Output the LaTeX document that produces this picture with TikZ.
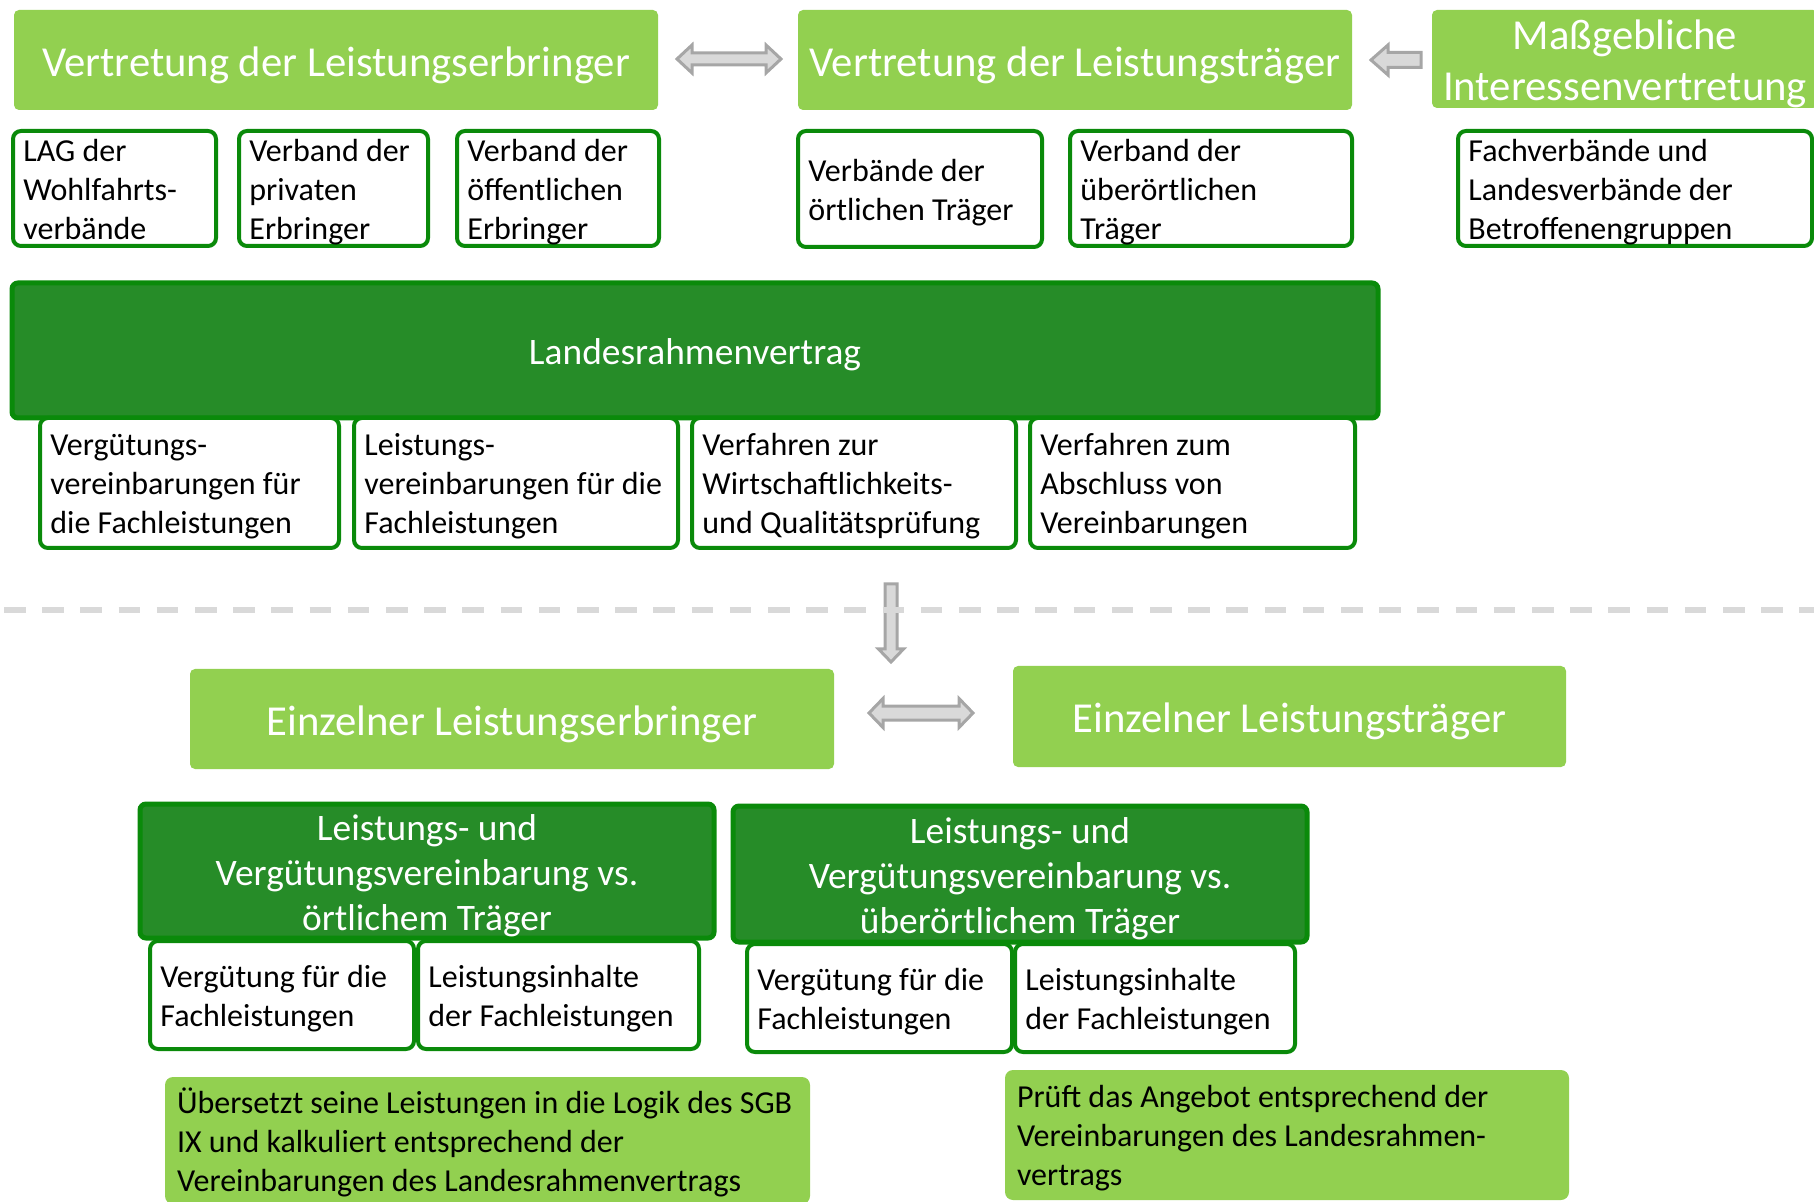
\documentclass[tikz,border=0pt]{standalone}
\usepackage{fontspec}
\setmainfont{Carlito}
\usetikzlibrary{calc}
\definecolor{lgreen}{HTML}{92D050}
\definecolor{dgreen}{HTML}{268C28}
\definecolor{bgreen}{HTML}{0A8A0A}
\definecolor{afill}{HTML}{D9D9D9}
\definecolor{aline}{HTML}{A6A6A6}
\newcommand\fS{\fontsize{16}{19.4}\selectfont}
\newcommand\fM{\fontsize{18.7}{22.5}\selectfont}
\newcommand\fL{\fontsize{21.35}{25.5}\selectfont}
% box shape: style, name, x1,y1,x2,y2
\newcommand\bxshape[6]{%
 \pgfmathsetmacro\bxcx{(#3+#5)/2}%
 \pgfmathsetmacro\bxcy{(#4+#6)/2}%
 \pgfmathsetmacro\bxw{(#5-#3)*0.5}%
 \pgfmathsetmacro\bxh{(#6-#4)*0.5}%
 \node[#1, minimum width=\bxw pt, minimum height=\bxh pt] (#2) at (\bxcx,\bxcy) {};}
% centred text box: shape style, text style, name, x1,y1,x2,y2, text
\newcommand\bxc[8]{\bxshape{#1}{#3}{#4}{#5}{#6}{#7}%
 \node[#2, align=flush center] (#3t) at (#3.center) {\strut #8\strut};}
% left text box
\newcommand\bxl[8]{\bxshape{#1}{#3}{#4}{#5}{#6}{#7}%
 \node[#2, align=flush left, anchor=west] (#3t) at ($(#3.west)+(12,0)$) {\strut #8\strut};}
% horizontal double block arrow: x1, x2, yc, half shaft, half head, head length
\newcommand\dblarrow[6]{%
 \draw[barrow] (#1,#3) -- ({#1+#6},{#3-#5}) -- ({#1+#6},{#3-#4}) -- ({#2-#6},{#3-#4}) -- ({#2-#6},{#3-#5}) -- (#2,#3)
  -- ({#2-#6},{#3+#5}) -- ({#2-#6},{#3+#4}) -- ({#1+#6},{#3+#4}) -- ({#1+#6},{#3+#5}) -- cycle;}
\tikzset{
 barrow/.style={fill=afill, draw=aline, line width=1.5pt, line join=miter},
 txt/.style={inner sep=0pt},
 ltitle/.style={fill=lgreen, rounded corners=2.5pt},
 wbox/.style={draw=bgreen, line width=2pt, fill=white, rounded corners=4pt},
 dbox/.style={draw=bgreen, line width=2.5pt, fill=dgreen, rounded corners=3pt},
 nbox/.style={fill=lgreen, rounded corners=4pt},
 ttl/.style={txt, text=white, font=\fL, yshift=-3pt},
 tmed/.style={txt, text=white, font=\fM, yshift=-2.5pt},
 tsm/.style={txt, text=black, font=\fS, yshift=-2pt},
 dashline/.style={draw=afill, line width=3pt, dash pattern=on 10.75pt off 8.35pt}
}
\begin{document}
\begin{tikzpicture}[x=0.5pt,y=-0.5pt]
\useasboundingbox (0,0) rectangle (1814,1202);
% top row
\bxc{ltitle}{ttl}{A}{14}{10}{658}{110}{Vertretung der Leistungserbringer}
\bxc{ltitle}{ttl}{B}{798}{10}{1352}{110}{Vertretung der Leistungsträger}
\bxc{ltitle}{ttl}{C}{1432}{10}{1818}{108}{Maßgebliche\\Interessenvertretung}
\dblarrow{677}{781}{59}{6}{14}{15}
% single left arrow
\draw[barrow] (1371,60) -- (1388,45) -- (1388,52.5) -- (1421,52.5) -- (1421,67.5) -- (1388,67.5) -- (1388,75) -- cycle;
% second row
\bxl{wbox}{tsm}{w1}{13}{131}{216}{246}{LAG der\\Wohlfahrts-\\verbände}
\bxl{wbox}{tsm}{w2}{239}{131}{428}{246}{Verband der\\privaten\\Erbringer}
\bxl{wbox}{tsm}{w3}{457}{131}{659}{246}{Verband der\\öffentlichen\\Erbringer}
\bxl{wbox}{tsm}{w4}{798}{131}{1042}{247}{Verbände der\\örtlichen Träger}
\bxl{wbox}{tsm}{w5}{1070}{131}{1352}{246}{Verband der\\überörtlichen\\Träger}
\bxl{wbox}{tsm}{w6}{1458}{131}{1812}{246}{Fachverbände und\\Landesverbände der\\Betroffenengruppen}
% Landesrahmenvertrag
\bxc{dbox}{tmed}{LRV}{12}{283}{1378}{418}{Landesrahmenvertrag}
\bxl{wbox}{tsm}{r1}{40}{418}{339}{548}{Vergütungs-\\vereinbarungen für\\die Fachleistungen}
\bxl{wbox}{tsm}{r2}{354}{418}{678}{548}{Leistungs-\\vereinbarungen für die\\Fachleistungen}
\bxl{wbox}{tsm}{r3}{692}{418}{1016}{548}{Verfahren zur\\Wirtschaftlichkeits-\\und Qualitätsprüfung}
\bxl{wbox}{tsm}{r4}{1030}{418}{1355}{548}{Verfahren zum\\Abschluss von\\Vereinbarungen}
% down arrow
\draw[barrow] (885,584) -- (897,584) -- (897,649) -- (903.5,649) -- (891,662) -- (878.5,649) -- (885,649) -- cycle;
% dashed separator
\coordinate (dl) at (4,610);
\coordinate (dr) at (1814,610);
\draw[dashline] (dl) -- (dr);
% lower part
\bxc{ltitle}{ttl}{L1}{190}{669}{834}{769}{Einzelner Leistungserbringer}
\bxc{ltitle}{ttl}{L2}{1013}{666}{1566}{767}{Einzelner Leistungsträger}
\dblarrow{869}{973}{713}{7}{14.5}{14}
\bxc{dbox}{tmed}{D1}{140}{804}{714}{938}{Leistungs- und\\Vergütungsvereinbarung vs.\\örtlichem Träger}
\bxc{dbox}{tmed}{D2}{733}{806}{1307}{942}{Leistungs- und\\Vergütungsvereinbarung vs.\\überörtlichem Träger}
\bxl{wbox}{tsm}{s1}{150}{941}{414}{1049}{Vergütung für die\\Fachleistungen}
\bxl{wbox}{tsm}{s2}{418}{941}{699}{1049}{Leistungsinhalte\\der Fachleistungen}
\bxl{wbox}{tsm}{s3}{747}{944}{1012}{1052}{Vergütung für die\\Fachleistungen}
\bxl{wbox}{tsm}{s4}{1015}{944}{1295}{1052}{Leistungsinhalte\\der Fachleistungen}
\bxl{nbox}{tsm}{E1}{165}{1077}{810}{1204}{Übersetzt seine Leistungen in die Logik des SGB\\IX und kalkuliert entsprechend der\\Vereinbarungen des Landesrahmenvertrags}
\bxl{nbox}{tsm}{E2}{1005}{1070}{1569}{1200}{Prüft das Angebot entsprechend der\\Vereinbarungen des Landesrahmen-\\vertrags}
\end{tikzpicture}
\end{document}
